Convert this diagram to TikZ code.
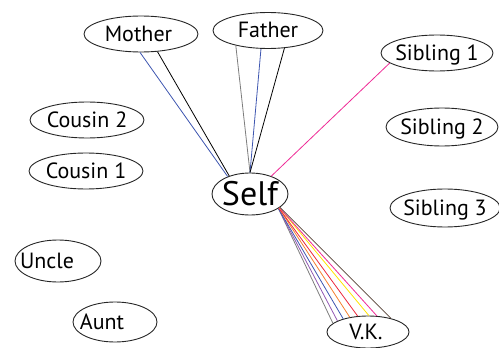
\documentclass[tikz,border=0pt]{standalone}
\usepackage{fontspec}
\setmainfont{PT Sans}
\usetikzlibrary{shapes.geometric}
\definecolor{tieblue}{RGB}{62,86,176}
\definecolor{tiepink}{RGB}{238,42,150}
\definecolor{tiegray}{RGB}{125,125,125}
\definecolor{tiepurple}{RGB}{146,88,178}
\definecolor{tieorange}{RGB}{245,128,48}
\definecolor{tiered}{RGB}{236,40,60}
\definecolor{tieyellow}{RGB}{255,228,0}
\definecolor{tiebrown}{RGB}{84,64,52}
% zero-size label box, so the ellipse keeps its set size;
% the optional argument moves the text sideways by that amount
\newcommand\nm[2][0pt]{\smash{\makebox[0pt]{\raisebox{-0.34em}{\kern#1\kern#1#2}}}}
\tikzset{
  person/.style={ellipse, draw=black!85, line width=0.9pt, inner sep=0pt,
    font=\fontsize{22}{22}\selectfont},
  tie/.style={line width=0.8pt},
}
\begin{document}
\begin{tikzpicture}[x=1pt,y=-1pt]
\useasboundingbox (0,0) rectangle (499,348);
% people
\node[person, minimum width=114, minimum height=36] (mother) at (141,34) {\nm[-2.5pt]{Mother}};
\node[person, minimum width=110, minimum height=36] (father) at (268,30.5) {\nm{Father}};
\node[person, minimum width=112, minimum height=36] (sib1)   at (437,53) {\nm{Sibling 1}};
\node[person, minimum width=112, minimum height=38] (sib2)   at (442,127) {\nm{Sibling 2}};
\node[person, minimum width=110, minimum height=38] (sib3)   at (445,208) {\nm{Sibling 3}};
\node[person, minimum width=114, minimum height=36] (cous2)  at (87,120) {\nm{Cousin 2}};
\node[person, minimum width=114, minimum height=36] (cous1)  at (86,171) {\nm{Cousin 1}};
\node[person, minimum width=86,  minimum height=42] (uncle)  at (58,261) {\nm[-11pt]{Uncle}};
\node[person, minimum width=84,  minimum height=40] (aunt)   at (115,322) {\nm[-13pt]{Aunt}};
\node[person, minimum width=76,  minimum height=42, font=\fontsize{34}{34}\selectfont] (self) at (250,194) {\nm{Self}};
\node[person, minimum width=82,  minimum height=32] (vk)     at (368,332) {\nm[-2pt]{V.K.}};
% ties to the parents
\draw[tie, tieblue]  (mother.-93) -- (self.142);
\draw[tie, black]    (mother.-47) -- (self.139);
\draw[tie, tiegray]  (father.-155) -- (self.north);
\draw[tie, tieblue]  (father.-111) -- (self.north);
\draw[tie, black]    (father.-47) -- (self.north);
% tie to a sibling
\draw[tie, tiepink]  (self.40) -- (sib1.192);
% fan of ties to V.K.
\draw[tie, tiegray]   (self.-27) -- (vk.166);
\draw[tie, tiepurple] (self.-27) -- (vk.160);
\draw[tie, tieblue]   (self.-27) -- (vk.152);
\draw[tie, tieorange] (self.-26) -- (vk.141);
\draw[tie, tiered]    (self.-26) -- (vk.123);
\draw[tie, tieyellow] (self.-25) -- (vk.87);
\draw[tie, tiepink]   (self.-25) -- (vk.61);
\draw[tie, tiebrown]  (self.-24) -- (vk.31);
\end{tikzpicture}
\end{document}
